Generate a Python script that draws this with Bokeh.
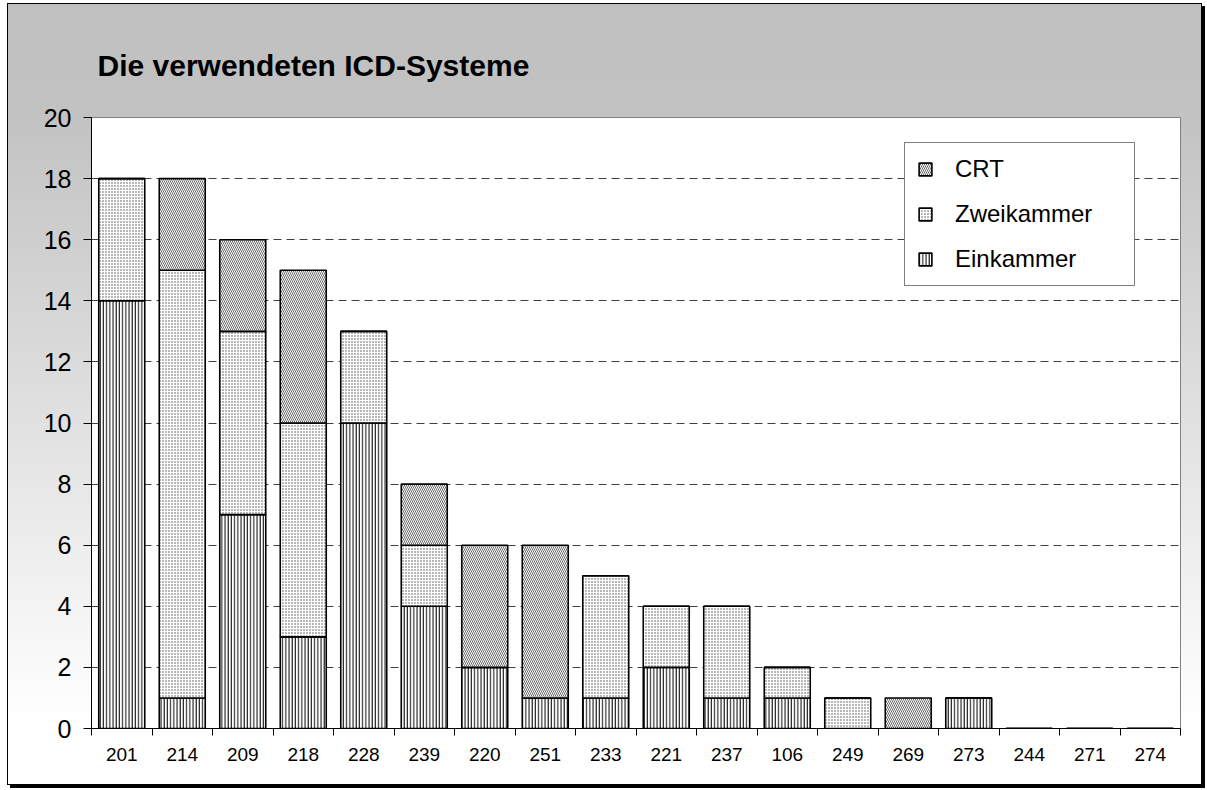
from bokeh.plotting import figure
from bokeh.models import (Range1d, FixedTicker, Legend, LegendItem)
from bokeh.embed import file_html
from bokeh.resources import INLINE

# ---- data ----
categories = ["201", "214", "209", "218", "228", "239", "220", "251", "233",
              "221", "237", "106", "249", "269", "273", "244", "271", "274"]
einkammer  = [14, 1, 7, 3, 10, 4, 2, 1, 1, 2, 1, 1, 0, 0, 1, 0, 0, 0]
zweikammer = [4, 14, 6, 7, 3, 2, 0, 0, 4, 2, 3, 1, 1, 0, 0, 0, 0, 0]
crt        = [0, 3, 3, 5, 0, 2, 4, 5, 0, 0, 0, 0, 0, 1, 0, 0, 0, 0]
series_names = ["Einkammer", "Zweikammer", "CRT"]
y_ticks = list(range(0, 21, 2))
title_text = "Die verwendeten ICD-Systeme"

FONT = "Liberation Sans"

xs = [i + 0.5 for i in range(len(categories))]
source = dict(x=xs, einkammer=einkammer, zweikammer=zweikammer, crt=crt)

p = figure(width=1195, height=782, output_backend="svg", toolbar_location=None,
           x_range=Range1d(0, len(categories)), y_range=Range1d(0, 20),
           min_border_left=83, min_border_right=23, min_border_top=113,
           min_border_bottom=58)
p.margin = (3, 0, 0, 7)

p.styles = {
    "background": "linear-gradient(180deg, #c0c0c0 0%, #c2c2c2 14%, #ffffff 92%)",
    "border": "1px solid #000",
    "box-shadow": "3px 3px 0 #000",
}
p.border_fill_color = None
p.background_fill_color = "white"
p.outline_line_color = "#808080"
p.outline_line_width = 1

# title
p.title.text = title_text
p.title.text_font = FONT
p.title.text_font_size = "30px"
p.title.text_font_style = "bold"
p.title.text_color = "black"
p.title.align = "left"
p.title.offset = 6
p.title.standoff = 72

# bars
renderers = p.vbar_stack(
    ["einkammer", "zweikammer", "crt"], x="x", width=0.76, source=source,
    fill_color="white",
    line_color="black", line_width=1.6,
    hatch_pattern=["vertical_line", "dot", "\\"],
    hatch_color=["black", "#4a4a4a", "#6a6a6a"],
    hatch_scale=[3.2, 3.0, 4.0],
    hatch_weight=[1.0, 1.0, 1.0],
)

# axes
xa = p.xaxis[0]
xa.ticker = FixedTicker(ticks=xs, minor_ticks=list(range(len(categories) + 1)))
xa.major_label_overrides = {x: c for x, c in zip(xs, categories)}
xa.major_tick_out = 0
xa.major_tick_in = 0
xa.minor_tick_out = 7
xa.minor_tick_in = 0
xa.minor_tick_line_color = "black"
xa.axis_line_color = "black"
xa.major_label_text_font = FONT
xa.major_label_text_font_size = "19px"
xa.major_label_text_color = "black"
xa.major_label_standoff = 12

ya = p.yaxis[0]
ya.ticker = FixedTicker(ticks=y_ticks, minor_ticks=[])
ya.major_tick_out = 8
ya.major_tick_in = 0
ya.major_tick_line_color = "black"
ya.axis_line_color = "black"
ya.major_label_text_font = FONT
ya.major_label_text_font_size = "25px"
ya.major_label_text_color = "black"
ya.major_label_standoff = 12

p.xgrid.grid_line_color = None
p.ygrid.grid_line_color = "#404040"
p.ygrid.grid_line_dash = "8 5"
p.ygrid.grid_line_width = 1

# legend (top-to-bottom: CRT, Zweikammer, Einkammer)
items = [LegendItem(label=series_names[i], renderers=[renderers[i]]) for i in (2, 1, 0)]
legend = Legend(items=items, location=(813, 442),
                glyph_width=16, glyph_height=16, label_standoff=22,
                label_text_font=FONT, label_text_font_size="24px",
                label_text_color="black",
                label_width=167, spacing=17, padding=12, margin=0,
                border_line_color="black", border_line_width=1,
                background_fill_color="white", background_fill_alpha=1)
p.add_layout(legend, "center")

open("out.html", "w").write(file_html(p, INLINE))
